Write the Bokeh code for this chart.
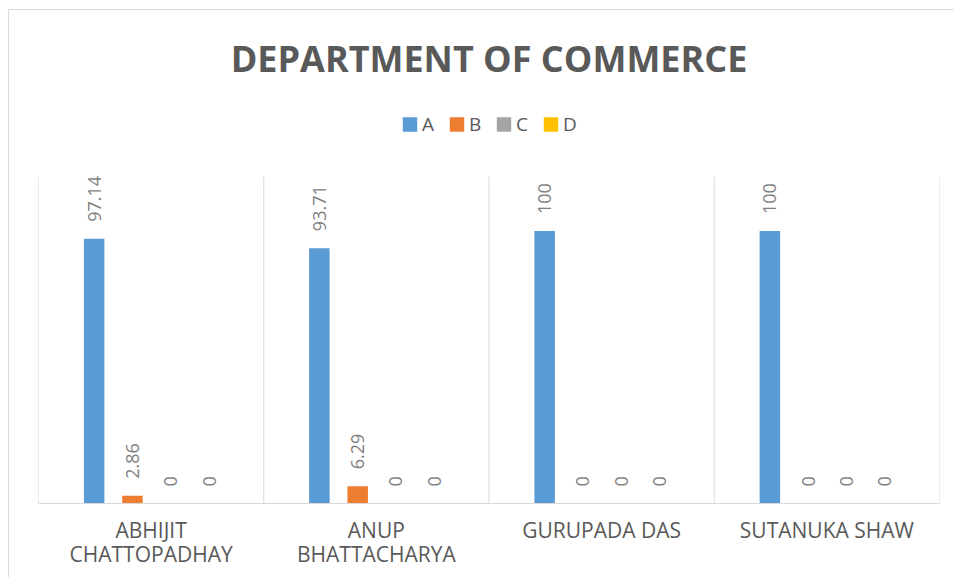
import numpy as np
from bokeh.plotting import figure
from bokeh.models import ColumnDataSource, FixedTicker, Range1d, Legend, LegendItem
from bokeh.embed import file_html
from bokeh.resources import INLINE

names = ["ABHIJIT\nCHATTOPADHAY", "ANUP\nBHATTACHARYA", "GURUPADA DAS", "SUTANUKA SHAW"]
series = ["A", "B", "C", "D"]
vals_A = [97.14, 93.71, 100, 100]
vals_B = [2.86, 6.29, 0, 0]
vals_C = [0, 0, 0, 0]
vals_D = [0, 0, 0, 0]
colors = ["#5B9BD5", "#ED7D31", "#A5A5A5", "#FFC000"]
offsets = [-0.253, -0.083, 0.087, 0.257]
bar_w = 0.091

W, H = 946, 568
FONT = "Open Sans"
TOP = 90
y_end = 120 * (503 - (10 + TOP)) / 327

p = figure(width=W, height=H, output_backend="svg", toolbar_location=None,
           x_range=Range1d(0, 4), y_range=Range1d(0, y_end),
           y_axis_location=None, title="DEPARTMENT OF COMMERCE",
           min_border_left=29, min_border_right=16, min_border_bottom=75, min_border_top=TOP)
p.margin = (9, 0, 0, 8)
p.styles = {"border-top": "1px solid #d9d9d9", "border-left": "1px solid #d9d9d9"}
p.title.align = "center"
p.title.text_font = FONT
p.title.text_font_size = "36px"
p.title.text_font_style = "bold"
p.title.text_color = "#595959"
p.title.standoff = 35
p.outline_line_color = None
p.xgrid.visible = False
p.ygrid.visible = False

# category separators
sep_x = [0, 1, 2, 3, 4]
p.segment(x0=sep_x, y0=[0] * 5, x1=sep_x, y1=[120] * 5, line_color="#d9d9d9", line_width=1)

items = []
for s, vals, c, off in zip(series, [vals_A, vals_B, vals_C, vals_D], colors, offsets):
    xs = [i + 0.5 + off for i in range(len(names))]
    src = ColumnDataSource(dict(x=xs, top=vals, lab=["{:g}".format(v) for v in vals]))
    r = p.vbar(x="x", top="top", width=bar_w, source=src, fill_color=c, line_color=None)
    p.text(x="x", y="top", text="lab", source=src, angle=np.pi / 2, text_align="left",
           text_baseline="middle", y_offset=-17, text_font_size="18px",
           text_color="#7F7F7F", text_font={"value": FONT})
    items.append(LegendItem(label=s, renderers=[r]))

legend = Legend(items=items, location="top_center", orientation="horizontal",
                border_line_color=None, background_fill_alpha=0, padding=0,
                margin=124 - 10 - (10 + TOP) - 3,
                glyph_width=18, glyph_height=18, label_standoff=4, label_width=14, spacing=11,
                label_text_font=FONT, label_text_font_size="19px", label_text_color="#595959")
p.add_layout(legend, "center")

ax = p.xaxis[0]
ax.ticker = FixedTicker(ticks=[0.5, 1.5, 2.5, 3.5])
ax.major_label_overrides = {0.5: names[0], 1.5: names[1], 2.5: names[2], 3.5: names[3]}
ax.major_tick_line_color = None
ax.minor_tick_line_color = None
ax.axis_line_color = "#d9d9d9"
ax.major_label_text_font = FONT
ax.major_label_text_font_size = "21px"
ax.major_label_text_line_height = 0.86
ax.major_label_text_color = "#595959"
ax.major_label_standoff = 6

open("out.html", "w").write(file_html(p, INLINE))
